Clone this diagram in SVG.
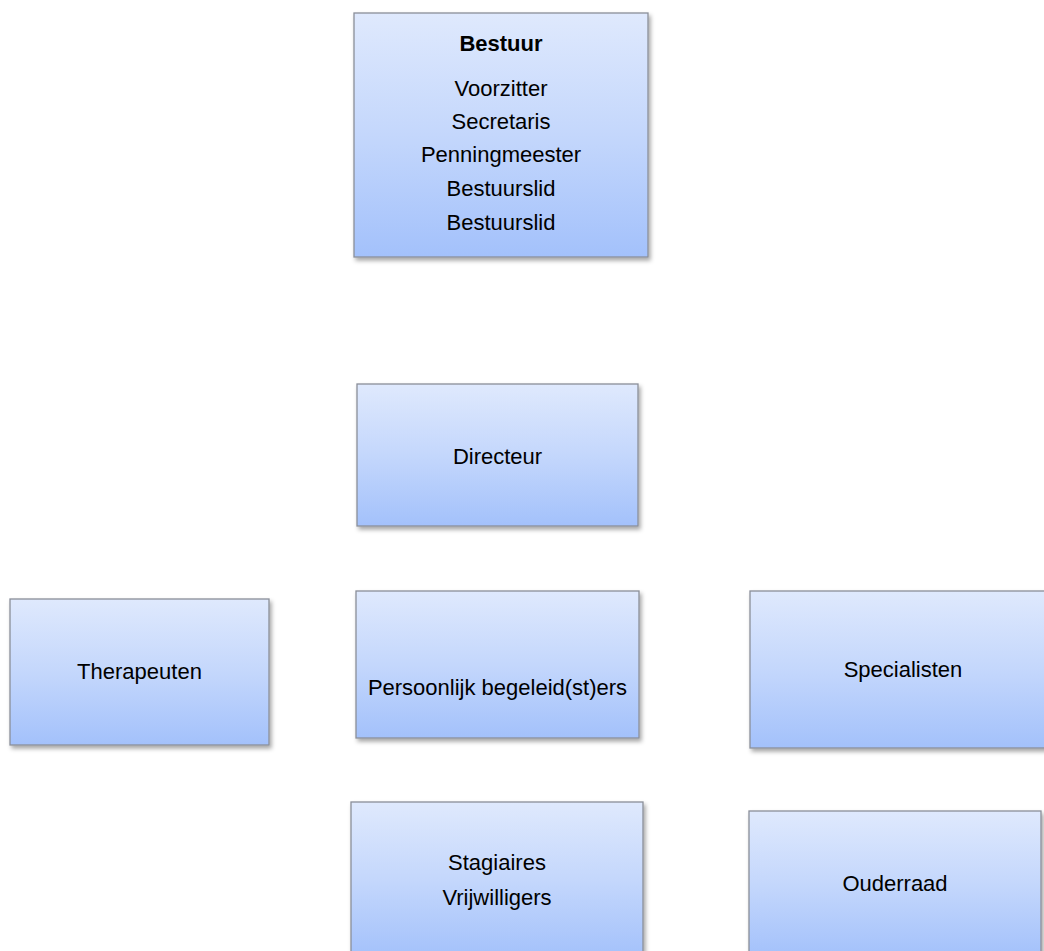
<svg xmlns="http://www.w3.org/2000/svg" width="1044" height="951" viewBox="0 0 1044 951">
  <style>
    .box { fill: url(#blueGrad); stroke: #8a8f99; stroke-width: 1.3; filter: url(#shadow); }
    .lbl { font-family: "Liberation Sans", Arial, sans-serif; font-size: 22px; fill: #000; text-anchor: middle; }
    .bold { font-weight: bold; }
  </style>
  <defs>
    <linearGradient id="blueGrad" x1="0" y1="0" x2="0" y2="1">
      <stop offset="0" stop-color="#dfe9fd"/>
      <stop offset="0.5" stop-color="#c4d7fc"/>
      <stop offset="1" stop-color="#a3c1fb"/>
    </linearGradient>
    <filter id="shadow" x="-10%" y="-10%" width="125%" height="125%">
      <feDropShadow dx="2" dy="3" stdDeviation="2" flood-color="#000" flood-opacity="0.35"/>
    </filter>
  </defs>
  <rect width="1044" height="951" fill="#ffffff"/>

  <g id="connectors"></g>

  <g id="node-bestuur">
    <rect class="box" x="354" y="13" width="294" height="244"/>
    <text class="lbl bold" x="501" y="51">Bestuur</text>
    <text class="lbl" x="501" y="96">Voorzitter</text>
    <text class="lbl" x="501" y="129">Secretaris</text>
    <text class="lbl" x="501" y="162">Penningmeester</text>
    <text class="lbl" x="501" y="196">Bestuurslid</text>
    <text class="lbl" x="501" y="230">Bestuurslid</text>
  </g>

  <g id="node-directeur">
    <rect class="box" x="357" y="384" width="281" height="142"/>
    <text class="lbl" x="497.5" y="464">Directeur</text>
  </g>

  <g id="node-therapeuten">
    <rect class="box" x="10" y="599" width="259" height="146"/>
    <text class="lbl" x="139.5" y="679">Therapeuten</text>
  </g>

  <g id="node-begeleiders">
    <rect class="box" x="356" y="591" width="283" height="147"/>
    <text class="lbl" x="497.5" y="695">Persoonlijk begeleid(st)ers</text>
  </g>

  <g id="node-specialisten">
    <rect class="box" x="750" y="591" width="306" height="157"/>
    <text class="lbl" x="903" y="677">Specialisten</text>
  </g>

  <g id="node-stagiaires">
    <rect class="box" x="351" y="802" width="292" height="156"/>
    <text class="lbl" x="497" y="870">Stagiaires</text>
    <text class="lbl" x="497" y="905">Vrijwilligers</text>
  </g>

  <g id="node-ouderraad">
    <rect class="box" x="749" y="811" width="292" height="146"/>
    <text class="lbl" x="895" y="891">Ouderraad</text>
  </g>
</svg>
